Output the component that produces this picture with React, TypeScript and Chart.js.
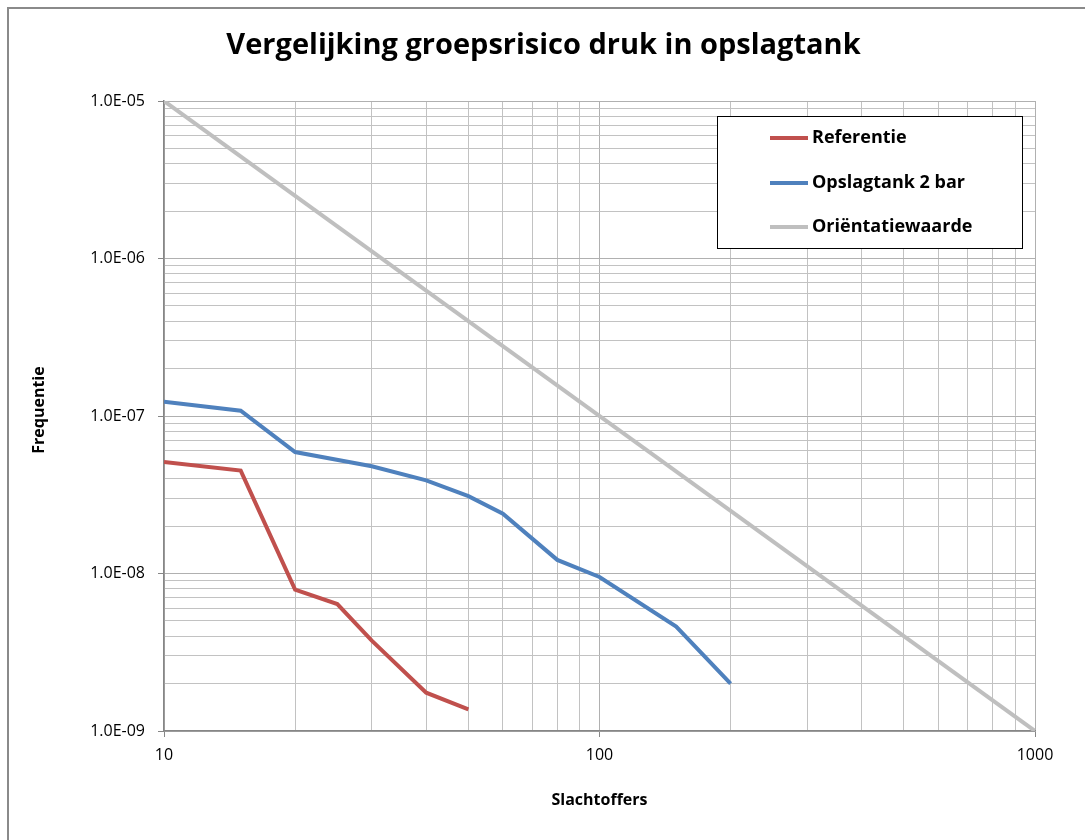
import React, { useEffect, useRef } from "react";
import { Chart, registerables } from "chart.js";

Chart.register(...registerables);

const chartTitle = "Vergelijking groepsrisico druk in opslagtank";
const xAxisTitle = "Slachtoffers";
const yAxisTitle = "Frequentie";
const seriesNames = ["Referentie", "Opslagtank 2 bar", "Oriëntatiewaarde"];
const seriesColors = ["#C0504D", "#4F81BD", "#BFBFBF"];

const referentieX = [10, 15, 20, 25, 30, 40, 50];
const referentieY = [5.1e-8, 4.5e-8, 7.9e-9, 6.4e-9, 3.75e-9, 1.75e-9, 1.37e-9];
const opslagtankX = [10, 15, 20, 30, 40, 50, 60, 80, 100, 150, 200];
const opslagtankY = [1.23e-7, 1.08e-7, 5.9e-8, 4.8e-8, 3.9e-8, 3.1e-8, 2.4e-8, 1.22e-8, 9.5e-9, 4.6e-9, 2.0e-9];
const orientatieX = [10, 1000];
const orientatieY = [1e-5, 1e-9];

const xTickValues = [10, 100, 1000];
const xTickLabels = ["10", "100", "1000"];
const yTickValues = [1e-9, 1e-8, 1e-7, 1e-6, 1e-5];
const yTickLabels = ["1.0E-09", "1.0E-08", "1.0E-07", "1.0E-06", "1.0E-05"];
const gridMultipliers = [1, 2, 3, 4, 5, 6, 7, 8, 9];

const AXIS_COLOR = "#868686";
const GRID_COLOR = "#c2c2c2";
const TICK_FONT = '"Open Sans", sans-serif';

function gridValues(majors: number[]): number[] {
  const out: number[] = [];
  for (let i = 0; i < majors.length - 1; i++) {
    for (const m of gridMultipliers) out.push(Number((m * majors[i]).toPrecision(12)));
  }
  out.push(majors[majors.length - 1]);
  return out;
}

function majorIndex(v: number, majors: number[]): number {
  return majors.findIndex((m) => Math.abs(v / m - 1) < 1e-6);
}

function toPoints(xs: number[], ys: number[]) {
  return xs.map((x, i) => ({ x, y: ys[i] }));
}

const decorPlugin = {
  id: "decor",
  afterDraw(chart: any) {
    const { ctx, chartArea } = chart;
    const ca = chartArea;
    ctx.save();
    // Title
    ctx.fillStyle = "#000";
    ctx.textAlign = "center";
    ctx.textBaseline = "middle";
    ctx.font = `bold 29px ${TICK_FONT}`;
    ctx.fillText(chartTitle, (ca.left + ca.right) / 2 - 56, 37);
    // Axis titles
    ctx.font = `bold 16px ${TICK_FONT}`;
    ctx.fillText(xAxisTitle, (ca.left + ca.right) / 2, ca.bottom + 69);
    ctx.save();
    ctx.translate(30, (ca.top + ca.bottom) / 2 - 6);
    ctx.rotate(-Math.PI / 2);
    ctx.fillText(yAxisTitle, 0, 0);
    ctx.restore();
    // Legend
    const bx = ca.right - 318;
    const by = ca.top + 15;
    const bw = 305;
    const bh = 132;
    ctx.fillStyle = "#fff";
    ctx.fillRect(bx, by, bw, bh);
    ctx.strokeStyle = "#000";
    ctx.lineWidth = 1;
    ctx.strokeRect(bx + 0.5, by + 0.5, bw, bh);
    const rows = [22, 67, 111];
    ctx.font = `bold 18px ${TICK_FONT}`;
    ctx.textAlign = "left";
    seriesNames.forEach((name, i) => {
      const y = by + rows[i];
      ctx.strokeStyle = seriesColors[i];
      ctx.lineWidth = 4;
      ctx.beginPath();
      ctx.moveTo(bx + 53, y);
      ctx.lineTo(bx + 91, y);
      ctx.stroke();
      ctx.fillStyle = "#000";
      ctx.fillText(name, bx + 95, y);
    });
    ctx.restore();
  },
};

export default function App() {
  const canvasRef = useRef<HTMLCanvasElement | null>(null);

  useEffect(() => {
    const canvas = canvasRef.current;
    if (!canvas) return;
    const mkDataset = (label: string, color: string, xs: number[], ys: number[]) => ({
      label,
      data: toPoints(xs, ys),
      borderColor: color,
      backgroundColor: color,
      borderWidth: 4,
      pointRadius: 0,
      tension: 0,
      fill: false,
    });
    const chart = new Chart(canvas, {
      type: "line",
      data: {
        datasets: [
          mkDataset(seriesNames[0], seriesColors[0], referentieX, referentieY),
          mkDataset(seriesNames[1], seriesColors[1], opslagtankX, opslagtankY),
          mkDataset(seriesNames[2], seriesColors[2], orientatieX, orientatieY),
        ],
      },
      options: {
        responsive: false,
        animation: false,
        devicePixelRatio: 1,
        layout: { padding: { left: 0, top: 92, right: 50, bottom: 0 } },
        plugins: {
          legend: { display: false },
          title: { display: false },
          tooltip: { enabled: false },
        },
        scales: {
          x: {
            type: "logarithmic",
            min: 10,
            max: 1000,
            afterBuildTicks: (scale: any) => {
              scale.ticks = gridValues(xTickValues).map((v) => ({ value: v }));
            },
            afterFit: (scale: any) => {
              scale.height = 109;
            },
            ticks: {
              autoSkip: false,
              maxRotation: 0,
              padding: 9,
              color: "#000",
              font: { family: TICK_FONT, size: 16 },
              callback: (v: any) => {
                const i = majorIndex(Number(v), xTickValues);
                return i >= 0 ? xTickLabels[i] : "";
              },
            },
            grid: {
              color: (c: any) => (majorIndex(c.tick?.value, xTickValues) >= 0 ? "#b0b0b0" : GRID_COLOR),
              lineWidth: 1,
              tickLength: 6,
              tickColor: (c: any) => (majorIndex(c.tick?.value, xTickValues) >= 0 ? AXIS_COLOR : "rgba(0,0,0,0)"),
            },
            border: { color: AXIS_COLOR, width: 1.5 },
          },
          y: {
            type: "logarithmic",
            min: 1e-9,
            max: 1e-5,
            afterBuildTicks: (scale: any) => {
              scale.ticks = gridValues(yTickValues).map((v) => ({ value: v }));
            },
            afterFit: (scale: any) => {
              scale.width = 155;
            },
            ticks: {
              autoSkip: false,
              padding: 13,
              color: "#000",
              font: { family: TICK_FONT, size: 16 },
              callback: (v: any) => {
                const i = majorIndex(Number(v), yTickValues);
                return i >= 0 ? yTickLabels[i] : "";
              },
            },
            grid: {
              color: (c: any) => (majorIndex(c.tick?.value, yTickValues) >= 0 ? "#b0b0b0" : GRID_COLOR),
              lineWidth: 1,
              tickLength: 6,
              tickColor: (c: any) => (majorIndex(c.tick?.value, yTickValues) >= 0 ? AXIS_COLOR : "rgba(0,0,0,0)"),
            },
            border: { color: AXIS_COLOR, width: 1.5 },
          },
        },
      },
      plugins: [decorPlugin],
    } as any);
    return () => chart.destroy();
  }, []);

  return (
    <div
      style={{
        position: "absolute",
        left: 7,
        top: 7,
        width: 1076,
        height: 831,
        borderTop: "2px solid #8a8a8a",
        borderLeft: "2px solid #8a8a8a",
        background: "#fff",
        overflow: "hidden",
      }}
    >
      <canvas ref={canvasRef} width={1076} height={831} style={{ display: "block" }} />
    </div>
  );
}
